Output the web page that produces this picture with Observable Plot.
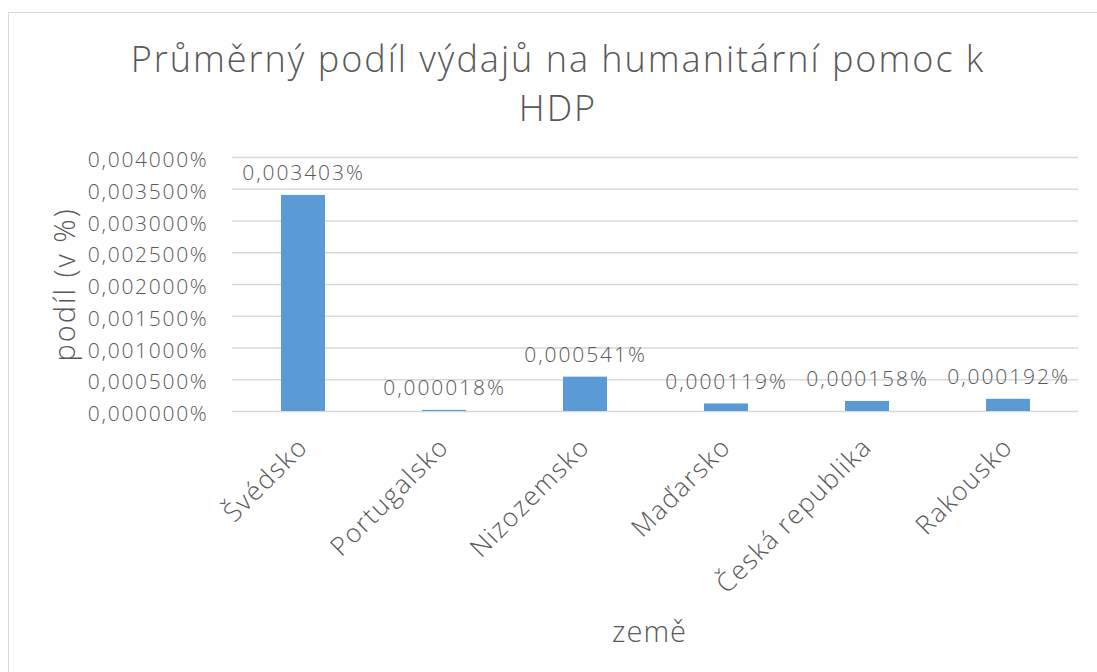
<!DOCTYPE html>
<html>
<head>
<meta charset="utf-8">
<script src="https://cdn.jsdelivr.net/npm/d3@7"></script>
<script src="https://cdn.jsdelivr.net/npm/@observablehq/plot@0.6"></script>
<style>
  html, body { margin: 0; padding: 0; background: #fff; overflow: hidden; }
  #page { position: relative; width: 1097px; height: 672px; overflow: hidden; font-family: "Open Sans", sans-serif; }
  #frame { position: absolute; left: 8px; top: 12px; width: 1200px; height: 800px; border: 1.5px solid #d9d9d9; box-sizing: border-box; }
  #title { position: absolute; left: 8px; width: 1100px; top: 34px; text-align: center; font-size: 36px; font-weight: 300; line-height: 49px; letter-spacing: 2px; color: #595959; }
  #chart { position: absolute; left: 0; top: 140px; }
  [aria-label="y-axis tick label"] text { letter-spacing: 1.7px; }
  [aria-label="x-axis tick label"] text { letter-spacing: 1.5px; }
  .dlabel, .dlabel text { letter-spacing: 1.9px; }
  .ytitle, .ytitle text { letter-spacing: 2px; }
  .xtitle, .xtitle text { letter-spacing: 1px; }
</style>
</head>
<body>
<div id="page">
  <div id="frame"></div>
  <div id="title">Průměrný podíl výdajů na humanitární pomoc k<br>HDP</div>
  <div id="chart"></div>
</div>
<script>
const countries = ["Švédsko", "Portugalsko", "Nizozemsko", "Maďarsko", "Česká republika", "Rakousko"];
const shares = [0.003403, 0.000018, 0.000541, 0.000119, 0.000158, 0.000192];
const yTicks = [0, 0.0005, 0.001, 0.0015, 0.002, 0.0025, 0.003, 0.0035, 0.004];
const yTitle = "podíl (v %)";
const xTitle = "země";

const data = countries.map((c, i) => ({country: c, share: shares[i]}));
const fmt = d => d.toFixed(6).replace(".", ",") + "%";
const grey = "#595959";
const font = "Open Sans, sans-serif";

const chart = Plot.plot({
  width: 1097,
  height: 532,
  marginTop: 17,
  marginBottom: 261,
  marginLeft: 232,
  marginRight: 19,
  style: {fontFamily: font, color: grey, background: "transparent"},
  x: {domain: countries, paddingInner: 0.688, paddingOuter: 0.344},
  y: {domain: [0, 0.004]},
  marks: [
    Plot.gridY(yTicks, {stroke: "#d9d9d9", strokeOpacity: 1, strokeWidth: 1.5}),
    Plot.barY(data, {x: "country", y: "share", fill: "#5b9bd5"}),
    Plot.axisY(yTicks, {tickFormat: fmt, tickSize: 0, tickPadding: 24, fontSize: 21, fontWeight: 300, fill: grey, label: null, dy: 3}),
    Plot.axisX({tickRotate: -45, tickSize: 0, tickPadding: 31, fontSize: 26, fontWeight: 300, fill: grey, label: null}),
    Plot.text(data, {x: "country", y: "share", text: d => fmt(d.share), dy: -22, fontSize: 21, fontWeight: 300, fill: grey, className: "dlabel"}),
    Plot.text([yTitle], {frameAnchor: "left", textAnchor: "middle", rotate: -90, dx: -167, fontSize: 29, fontWeight: 300, fill: grey, className: "ytitle"}),
    Plot.text([xTitle], {frameAnchor: "bottom", lineAnchor: "middle", dx: -6, dy: 221, fontSize: 29, fontWeight: 300, fill: grey, className: "xtitle"})
  ]
});
document.getElementById("chart").appendChild(chart);
</script>
</body>
</html>
